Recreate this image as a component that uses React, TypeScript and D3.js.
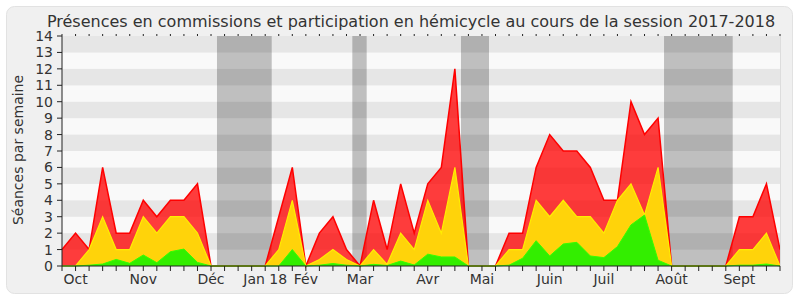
import React from "react";
import * as d3 from "d3";

const title = "Présences en commissions et participation en hémicycle au cours de la session 2017-2018";
const yLabel = "Séances par semaine";

// weekly values, week 0 = last week of Sept 2017, week 53 = end of Sept 2018
const presences = [1, 2, 1, 6, 2, 2, 4, 3, 4, 4, 5, 0, 0, 0, 0, 0, 3, 6, 0, 2, 3, 1, 0, 4, 1, 5, 2, 5, 6, 12, 0, 0, 0, 2, 2, 6, 8, 7, 7, 6, 4, 4, 10, 8, 9, 0, 0, 0, 0, 0, 3, 3, 5, 1];
const participations = [0, 0, 1, 3, 1, 1, 3, 2, 3, 3, 2, 0, 0, 0, 0, 0, 1, 4, 0, 0.4, 1, 0.4, 0, 1, 0.1, 2, 1, 4, 2, 6, 0, 0, 0, 1, 1, 4, 3, 4, 3, 3, 2, 4, 5, 3.1, 6, 0, 0, 0, 0, 0, 1, 1, 2, 0];
const interventions = [0, 0, 0.05, 0.12, 0.4, 0.16, 0.67, 0.2, 0.87, 1.03, 0.22, 0, 0, 0, 0, 0, 0, 1, 0, 0.05, 0.15, 0.05, 0, 0.1, 0.03, 0.3, 0.06, 0.72, 0.55, 0.55, 0, 0, 0, 0.05, 0.47, 1.54, 0.61, 1.34, 1.44, 0.61, 0.51, 1.18, 2.5, 3.1, 0.35, 0, 0, 0, 0, 0, 0.05, 0.05, 0.12, 0];

// parliamentary holidays, in week units
const holidayStarts = [11.44, 21.43, 29.45, 44.44];
const holidayEnds = [15.48, 22.49, 31.52, 49.51];

const monthLabels = ["Oct", "Nov", "Déc", "Jan 18", "Fév", "Mar", "Avr", "Mai", "Juin", "Juil", "Août", "Sept"];
const monthWeeks = [1, 6, 11, 15, 18, 22, 27, 31, 36, 40, 45, 50];

const yTicks = d3.range(0, 15);

export default function App() {
  const W = 800, H = 300;
  const x = d3.scaleLinear().domain([0, presences.length - 1]).range([62, 780]);
  const y = d3.scaleLinear().domain([0, 14]).range([266, 36]);
  const font = "DejaVu Sans, Verdana, sans-serif";

  const area = (vals: number[]) =>
    d3.area<number>().x((_, i) => x(i)).y0(y(0)).y1((d) => y(d))(vals) || "";
  const line = (vals: number[]) =>
    d3.line<number>().x((_, i) => x(i)).y((d) => y(d))(vals) || "";

  const weeks = d3.range(presences.length);

  return (
    <svg width={W} height={H} style={{ position: "absolute", left: 0, top: 0 }} fontFamily={font}>
      <rect x={0} y={0} width={W} height={H} fill="#ffffff" />
      <rect x={6.5} y={6.5} width={786} height={287} rx={8} fill="#f0f0f0" stroke="#e2e2e2" />
      <text x={411} y={27} textAnchor="middle" fontSize={16} fill="#333">{title}</text>

      {/* stripes */}
      {yTicks.slice(0, 14).map((v) => (
        <rect key={"s" + v} x={x(0)} width={x(53) - x(0)} y={y(v + 1)} height={y(v) - y(v + 1)}
          fill={v % 2 === 1 ? "#e6e6e6" : "#f9f9f9"} />
      ))}
      {/* holidays */}
      {holidayStarts.map((s, k) => (
        <rect key={"h" + k} x={x(s)} width={x(holidayEnds[k]) - x(s)} y={y(14)} height={y(0) - y(14)}
          fill="rgba(0,0,0,0.23)" />
      ))}

      {/* areas */}
      <path d={area(presences)} fill="rgba(255,0,0,0.76)" />
      <path d={line(presences)} fill="none" stroke="#ff0000" strokeWidth={1.5} />
      <path d={area(participations)} fill="#ffd30a" />
      <path d={line(participations)} fill="none" stroke="#ffee00" strokeWidth={1.2} />
      <path d={area(interventions)} fill="#33ee00" />
      <path d={line(interventions)} fill="none" stroke="#33ff00" strokeWidth={1} />

      {/* axes */}
      <line x1={x(53) + 0.5} x2={x(53) + 0.5} y1={y(14)} y2={y(0)} stroke="#dddddd" />
      <line x1={x(0)} x2={x(0)} y1={y(14)} y2={y(0)} stroke="#222" />
      <line x1={x(0)} x2={x(53)} y1={y(0)} y2={y(0)} stroke="#222" />
      {yTicks.map((v) => (
        <g key={"y" + v}>
          <line x1={x(0) - 5} x2={x(0)} y1={y(v)} y2={y(v)} stroke="#222" />
          <text x={53} y={y(v) + 5} textAnchor="end" fontSize={14} fill="#333">{v}</text>
        </g>
      ))}
      {weeks.map((i) => (
        <g key={"w" + i}>
          <line x1={x(i)} x2={x(i)} y1={y(0)} y2={y(0) + 5} stroke="#222" />
          <line x1={x(i)} x2={x(i)} y1={y(14) - 2} y2={y(14)} stroke="#222" />
        </g>
      ))}
      {monthLabels.map((m, k) => (
        <text key={"m" + k} x={x(monthWeeks[k])} y={284} textAnchor="middle" fontSize={14} fill="#333">{m}</text>
      ))}
      <text transform={`translate(23,150) rotate(-90)`} textAnchor="middle" fontSize={14} fill="#333">{yLabel}</text>
    </svg>
  );
}
